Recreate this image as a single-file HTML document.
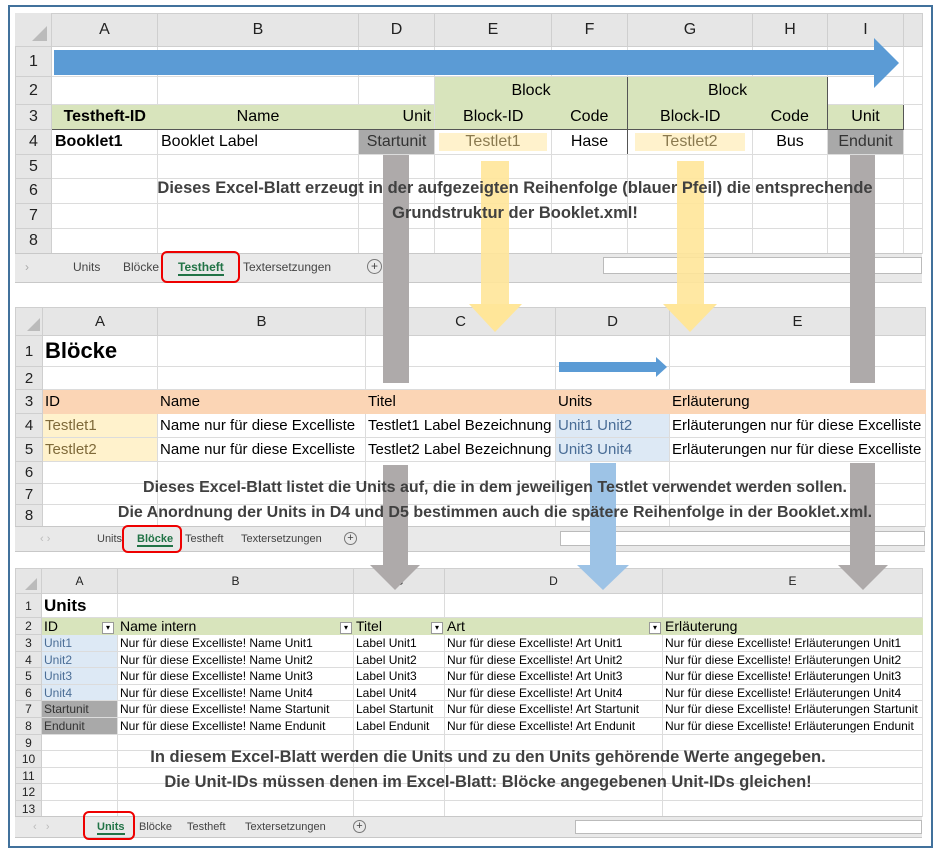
<!DOCTYPE html>
<html><head><meta charset="utf-8"><style>
*{margin:0;padding:0;box-sizing:border-box}
body{width:942px;height:852px;background:#fff;position:relative;overflow:hidden;font-family:"Liberation Sans",sans-serif}
.a{position:absolute}
table{position:absolute;border-collapse:collapse;table-layout:fixed}
td{border:1px solid #dcdcdc;white-space:nowrap;overflow:hidden;color:#000;padding:0 3px}
td.h{background:#e6e6e6;text-align:center;color:#222;border-color:#cfcfcf}
td.r{background:#e6e6e6;text-align:center;color:#222;border-color:#cfcfcf;padding:0}
.t1 td{font-size:16px}
.t2 td{font-size:15px;padding:0 2px}
.t3 td{font-size:12px;padding:0 2px}
.cap{position:absolute;font-weight:bold;color:#404040;white-space:nowrap;z-index:3;text-align:center}
.bar{position:absolute;z-index:2}
.tabs{position:absolute;background:#e9e9e9;border-top:1px solid #c8c8c8;border-bottom:1px solid #c8c8c8;font-size:12px;color:#444}
.tabs span{position:absolute;top:6px}
.red{position:absolute;border:2.5px solid #e00;border-radius:6px;z-index:3}
.act{color:#217346;font-weight:bold;border-bottom:2px solid #217346}
</style></head><body>
<div class="a" style="left:8px;top:5px;width:925px;height:843px;border:2px solid #41719c"></div>

<!-- Panel 1 -->
<table class="t1" style="left:15px;top:13px;width:907px">
<colgroup><col style="width:36px"><col style="width:106px"><col style="width:201px"><col style="width:76px"><col style="width:117px"><col style="width:76px"><col style="width:125px"><col style="width:75px"><col style="width:76px"><col style="width:19px"></colgroup>
<tr style="height:33px"><td class="h" style="background:#e6e6e6"></td><td class="h">A</td><td class="h">B</td><td class="h">D</td><td class="h">E</td><td class="h">F</td><td class="h">G</td><td class="h">H</td><td class="h">I</td><td class="h"></td></tr>
<tr style="height:30px"><td class="r">1</td><td></td><td></td><td></td><td></td><td></td><td></td><td></td><td></td><td></td></tr>
<tr style="height:28px"><td class="r">2</td><td></td><td></td><td></td><td colspan="2" style="background:#d8e4bc;text-align:center;border:1px solid #555;border-bottom:none">Block</td><td colspan="2" style="background:#d8e4bc;text-align:center;border:1px solid #555;border-bottom:none">Block</td><td></td><td></td></tr>
<tr style="height:25px"><td class="r">3</td><td style="background:#d8e4bc;font-weight:bold;text-align:center;border-top:1px solid #555;border-bottom:1px solid #555;border-left:none;border-right:none">Testheft-ID</td><td style="background:#d8e4bc;text-align:center;border-top:1px solid #555;border-bottom:1px solid #555;border-left:none;border-right:none">Name</td><td style="background:#d8e4bc;text-align:right;border-top:1px solid #555;border-bottom:1px solid #555;border-left:none">Unit</td><td style="background:#d8e4bc;text-align:center;border:none;border-left:1px solid #555;border-bottom:1px solid #555">Block-ID</td><td style="background:#d8e4bc;text-align:center;border:none;border-bottom:1px solid #555;border-right:1px solid #555">Code</td><td style="background:#d8e4bc;text-align:center;border:none;border-bottom:1px solid #555">Block-ID</td><td style="background:#d8e4bc;text-align:center;border:none;border-bottom:1px solid #555;border-right:1px solid #555">Code</td><td style="background:#d8e4bc;text-align:center;border:1px solid #555">Unit</td><td></td></tr>
<tr style="height:25px"><td class="r">4</td><td style="font-weight:bold">Booklet1</td><td>Booklet Label</td><td style="background:#a9a9a9;color:#333;text-align:center">Startunit</td><td style="text-align:center;color:#8a7a50"><span style="background:#fff2cc;display:inline-block;width:108px">Testlet1</span></td><td style="text-align:center;border-right:1px solid #555">Hase</td><td style="text-align:center;color:#8a7a50"><span style="background:#fff2cc;display:inline-block;width:110px">Testlet2</span></td><td style="text-align:center;border-left:1px solid #333">Bus</td><td style="background:#a9a9a9;color:#333;text-align:center">Endunit</td><td></td></tr>
<tr style="height:24px"><td class="r">5</td><td></td><td></td><td></td><td></td><td></td><td></td><td></td><td></td><td></td></tr>
<tr style="height:25px"><td class="r">6</td><td></td><td></td><td></td><td></td><td></td><td></td><td></td><td></td><td></td></tr>
<tr style="height:25px"><td class="r">7</td><td></td><td></td><td></td><td></td><td></td><td></td><td></td><td></td><td></td></tr>
<tr style="height:25px"><td class="r">8</td><td></td><td></td><td></td><td></td><td></td><td></td><td></td><td></td><td></td></tr>
</table>
<div class="a" style="left:15px;top:13px;width:36px;height:33px;background:#e6e6e6"></div>
<div class="a" style="left:32px;top:26px;width:0;height:0;border-left:15px solid transparent;border-bottom:15px solid #bbb"></div>
<div class="a" style="left:54px;top:50px;width:822px;height:25px;background:#5b9bd5"></div>
<div class="a" style="left:874px;top:38px;width:0;height:0;border-top:25px solid transparent;border-bottom:25px solid transparent;border-left:25px solid #5b9bd5"></div>
<div class="tabs" style="left:15px;top:253px;width:907px;height:30px">
<span style="left:10px;color:#aaa">›</span>
<span style="left:58px">Units</span><span style="left:108px">Blöcke</span>
<span class="act" style="left:163px">Testheft</span><span style="left:228px">Textersetzungen</span>
<span style="left:352px;top:5px;width:15px;height:15px;border:1px solid #777;border-radius:50%;font-size:12px;line-height:12px;text-align:center">+</span>
<span style="left:588px;top:3px;width:319px;height:17px;background:#fff;border:1px solid #bbb"></span>
</div>
<div class="red" style="left:161px;top:251px;width:79px;height:32px"></div>
<div class="cap" style="left:50px;top:179px;width:930px;font-size:16.5px">Dieses Excel-Blatt erzeugt in der aufgezeigten Reihenfolge (blauer Pfeil) die entsprechende</div>
<div class="cap" style="left:50px;top:204px;width:930px;font-size:16.5px">Grundstruktur der Booklet.xml!</div>

<!-- Panel 2 -->
<table class="t2" style="left:15px;top:307px;width:910px">
<colgroup><col style="width:27px"><col style="width:115px"><col style="width:208px"><col style="width:190px"><col style="width:114px"><col style="width:256px"></colgroup>
<tr style="height:28px"><td class="h"></td><td class="h">A</td><td class="h">B</td><td class="h">C</td><td class="h">D</td><td class="h">E</td></tr>
<tr style="height:31px"><td class="r">1</td><td style="font-weight:bold;font-size:22px">Blöcke</td><td></td><td></td><td></td><td></td></tr>
<tr style="height:23px"><td class="r">2</td><td></td><td></td><td></td><td></td><td></td></tr>
<tr style="height:24px;background:#fbd5b5"><td class="r">3</td><td style="border-color:#fbd5b5">ID</td><td style="border-color:#fbd5b5">Name</td><td style="border-color:#fbd5b5">Titel</td><td style="border-color:#fbd5b5">Units</td><td style="border-color:#fbd5b5">Erläuterung</td></tr>
<tr style="height:24px"><td class="r">4</td><td style="background:#fff2cc;color:#7f6a3a">Testlet1</td><td>Name nur für diese Excelliste</td><td>Testlet1 Label Bezeichnung</td><td style="background:#dde9f5;color:#4a6d96">Unit1 Unit2</td><td>Erläuterungen nur für diese Excelliste</td></tr>
<tr style="height:24px"><td class="r">5</td><td style="background:#fff2cc;color:#7f6a3a">Testlet2</td><td>Name nur für diese Excelliste</td><td>Testlet2 Label Bezeichnung</td><td style="background:#dde9f5;color:#4a6d96">Unit3 Unit4</td><td>Erläuterungen nur für diese Excelliste</td></tr>
<tr style="height:22px"><td class="r">6</td><td></td><td></td><td></td><td></td><td></td></tr>
<tr style="height:21px"><td class="r">7</td><td></td><td></td><td></td><td></td><td></td></tr>
<tr style="height:22px"><td class="r">8</td><td></td><td></td><td></td><td></td><td></td></tr>
</table>
<div class="a" style="left:27px;top:318px;width:0;height:0;border-left:13px solid transparent;border-bottom:13px solid #bbb"></div>
<div class="a" style="left:559px;top:362px;width:98px;height:10px;background:#5b9bd5"></div>
<div class="a" style="left:656px;top:357px;width:0;height:0;border-top:10px solid transparent;border-bottom:10px solid transparent;border-left:11px solid #5b9bd5"></div>
<div class="tabs" style="left:15px;top:526px;width:910px;height:26px;font-size:11px">
<span style="left:25px;color:#bbb">‹ ›</span>
<span style="left:82px">Units</span><span class="act" style="left:122px">Blöcke</span>
<span style="left:170px">Testheft</span><span style="left:226px">Textersetzungen</span>
<span style="left:329px;top:5px;width:13px;height:13px;border:1px solid #777;border-radius:50%;font-size:11px;line-height:11px;text-align:center">+</span>
<span style="left:545px;top:4px;width:365px;height:15px;background:#fff;border:1px solid #bbb"></span>
</div>
<div class="red" style="left:122px;top:525px;width:60px;height:28px"></div>
<div class="cap" style="left:30px;top:479px;width:930px;font-size:16px">Dieses Excel-Blatt listet die Units auf, die in dem jeweiligen Testlet verwendet werden sollen.</div>
<div class="cap" style="left:30px;top:504px;width:930px;font-size:16px">Die Anordnung der Units in D4 und D5 bestimmen auch die spätere Reihenfolge in der Booklet.xml.</div>

<!-- Panel 3 -->
<table class="t3" style="left:15px;top:568px;width:907px">
<colgroup><col style="width:26px"><col style="width:76px"><col style="width:236px"><col style="width:91px"><col style="width:218px"><col style="width:260px"></colgroup>
<tr style="height:25px"><td class="h"></td><td class="h">A</td><td class="h">B</td><td class="h">C</td><td class="h">D</td><td class="h">E</td></tr>
<tr style="height:24px"><td class="r">1</td><td style="font-weight:bold;font-size:17px">Units</td><td></td><td></td><td></td><td></td></tr>
<tr style="height:17px;background:#d8e4bc"><td class="r">2</td><td style="border-color:#d8e4bc;font-size:14px">ID</td><td style="border-color:#d8e4bc;font-size:14px">Name intern</td><td style="border-color:#d8e4bc;font-size:14px">Titel</td><td style="border-color:#d8e4bc;font-size:14px">Art</td><td style="border-color:#d8e4bc;font-size:14px">Erläuterung</td></tr>
<tr style="height:17px"><td class="r">3</td><td style="background:#dde9f5;color:#4a6d96">Unit1</td><td>Nur für diese Excelliste! Name Unit1</td><td>Label Unit1</td><td>Nur für diese Excelliste! Art Unit1</td><td>Nur für diese Excelliste! Erläuterungen Unit1</td></tr>
<tr style="height:16px"><td class="r">4</td><td style="background:#dde9f5;color:#4a6d96">Unit2</td><td>Nur für diese Excelliste! Name Unit2</td><td>Label Unit2</td><td>Nur für diese Excelliste! Art Unit2</td><td>Nur für diese Excelliste! Erläuterungen Unit2</td></tr>
<tr style="height:17px"><td class="r">5</td><td style="background:#dde9f5;color:#4a6d96">Unit3</td><td>Nur für diese Excelliste! Name Unit3</td><td>Label Unit3</td><td>Nur für diese Excelliste! Art Unit3</td><td>Nur für diese Excelliste! Erläuterungen Unit3</td></tr>
<tr style="height:16px"><td class="r">6</td><td style="background:#dde9f5;color:#4a6d96">Unit4</td><td>Nur für diese Excelliste! Name Unit4</td><td>Label Unit4</td><td>Nur für diese Excelliste! Art Unit4</td><td>Nur für diese Excelliste! Erläuterungen Unit4</td></tr>
<tr style="height:17px"><td class="r">7</td><td style="background:#a9a9a9;color:#333">Startunit</td><td>Nur für diese Excelliste! Name Startunit</td><td>Label Startunit</td><td>Nur für diese Excelliste! Art Startunit</td><td>Nur für diese Excelliste! Erläuterungen Startunit</td></tr>
<tr style="height:17px"><td class="r">8</td><td style="background:#a9a9a9;color:#333">Endunit</td><td>Nur für diese Excelliste! Name Endunit</td><td>Label Endunit</td><td>Nur für diese Excelliste! Art Endunit</td><td>Nur für diese Excelliste! Erläuterungen Endunit</td></tr>
<tr style="height:16px"><td class="r">9</td><td></td><td></td><td></td><td></td><td></td></tr>
<tr style="height:17px"><td class="r">10</td><td></td><td></td><td></td><td></td><td></td></tr>
<tr style="height:16px"><td class="r">11</td><td></td><td></td><td></td><td></td><td></td></tr>
<tr style="height:17px"><td class="r">12</td><td></td><td></td><td></td><td></td><td></td></tr>
<tr style="height:16px"><td class="r">13</td><td></td><td></td><td></td><td></td><td></td></tr>
</table>
<div class="a" style="left:25px;top:578px;width:0;height:0;border-left:12px solid transparent;border-bottom:12px solid #bbb"></div>
<div class="a" style="left:102px;top:622px;width:12px;height:12px;border:1px solid #999;background:#fff;font-size:8px;text-align:center;line-height:10px">▾</div>
<div class="a" style="left:340px;top:622px;width:12px;height:12px;border:1px solid #999;background:#fff;font-size:8px;text-align:center;line-height:10px">▾</div>
<div class="a" style="left:431px;top:622px;width:12px;height:12px;border:1px solid #999;background:#fff;font-size:8px;text-align:center;line-height:10px">▾</div>
<div class="a" style="left:649px;top:622px;width:12px;height:12px;border:1px solid #999;background:#fff;font-size:8px;text-align:center;line-height:10px">▾</div>
<div class="tabs" style="left:15px;top:816px;width:907px;height:22px;font-size:11px">
<span style="left:18px;top:4px;color:#bbb">‹ &nbsp; ›</span>
<span class="act" style="left:82px;top:4px">Units</span><span style="left:124px;top:4px">Blöcke</span>
<span style="left:172px;top:4px">Testheft</span><span style="left:230px;top:4px">Textersetzungen</span>
<span style="left:338px;top:3px;width:13px;height:13px;border:1px solid #777;border-radius:50%;font-size:11px;line-height:11px;text-align:center">+</span>
<span style="left:560px;top:3px;width:347px;height:14px;background:#fff;border:1px solid #bbb"></span>
</div>
<div class="red" style="left:83px;top:811px;width:52px;height:29px"></div>
<div class="cap" style="left:23px;top:748px;width:930px;font-size:16.5px">In diesem Excel-Blatt werden die Units und zu den Units gehörende Werte angegeben.</div>
<div class="cap" style="left:23px;top:773px;width:930px;font-size:16.5px">Die Unit-IDs müssen denen im Excel-Blatt: Blöcke angegebenen Unit-IDs gleichen!</div>

<!-- vertical arrows -->
<div class="bar" style="left:383px;top:155px;width:26px;height:228px;background:#aeaaaa"></div>
<div class="bar" style="left:850px;top:155px;width:25px;height:228px;background:#aeaaaa"></div>
<div class="bar" style="left:481px;top:161px;width:28px;height:143px;background:#ffe699;opacity:.9"></div>
<div class="bar" style="left:469px;top:304px;width:0;height:0;border-left:26px solid transparent;border-right:27px solid transparent;border-top:28px solid #ffe699"></div>
<div class="bar" style="left:677px;top:161px;width:27px;height:143px;background:#ffe699;opacity:.9"></div>
<div class="bar" style="left:663px;top:304px;width:0;height:0;border-left:27px solid transparent;border-right:27px solid transparent;border-top:28px solid #ffe699"></div>
<div class="bar" style="left:383px;top:465px;width:25px;height:100px;background:#aeaaaa"></div>
<div class="bar" style="left:370px;top:565px;width:0;height:0;border-left:25px solid transparent;border-right:25px solid transparent;border-top:25px solid #aeaaaa"></div>
<div class="bar" style="left:590px;top:463px;width:26px;height:102px;background:#9dc3e6"></div>
<div class="bar" style="left:577px;top:565px;width:0;height:0;border-left:26px solid transparent;border-right:26px solid transparent;border-top:25px solid #9dc3e6"></div>
<div class="bar" style="left:850px;top:463px;width:25px;height:102px;background:#aeaaaa"></div>
<div class="bar" style="left:838px;top:565px;width:0;height:0;border-left:25px solid transparent;border-right:25px solid transparent;border-top:25px solid #aeaaaa"></div>
</body></html>
